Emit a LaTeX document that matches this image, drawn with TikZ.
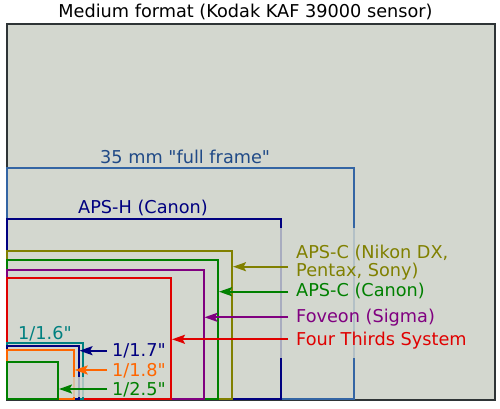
\documentclass[tikz,border=0pt]{standalone}
\usepackage{fontspec}
\setmainfont{DejaVu Sans}[Ligatures=TeXOff]
\usetikzlibrary{arrows.meta}
\definecolor{bg}{HTML}{D3D7CF}
\definecolor{frameC}{HTML}{2E3436}
\definecolor{ffC}{HTML}{3465A4}
\definecolor{ffT}{HTML}{204A87}
\definecolor{navyC}{HTML}{000080}
\definecolor{oliveC}{HTML}{808000}
\definecolor{greenC}{HTML}{008000}
\definecolor{purpleC}{HTML}{800080}
\definecolor{redC}{HTML}{E00000}
\definecolor{tealC}{HTML}{008080}
\definecolor{orangeC}{HTML}{FF6600}
\begin{document}
\begin{tikzpicture}[x=1pt,y=-1pt,
  lbl/.style={inner sep=0pt, anchor=base west, font=\fontsize{17.7}{18.4}\selectfont},
  rect/.style={line width=2pt},
  arr/.style={line width=2pt, -{Stealth[length=13pt,width=9pt,inset=2.5pt]}}]
\useasboundingbox (0,0) rectangle (500,409);
% medium format
\draw[frameC, line width=1.6pt, fill=bg] (7,24) rectangle (495,400);
\node[lbl, anchor=base, text=black] (tMF) at (245.5,17.3) {Medium format (Kodak KAF 39000 sensor)};
% sensor rectangles, largest first
\draw[rect, ffC]     (7,399) rectangle (354,168);
\draw[rect, navyC]   (7,399) rectangle (281,219);
\draw[rect, oliveC]  (7,399) rectangle (232,251);
\draw[rect, greenC]  (7,399) rectangle (218,260);
\draw[rect, purpleC] (7,399) rectangle (203.5,269.5);
\draw[rect, redC]    (7,399) rectangle (171,277.5);
\draw[rect, tealC]   (7,399) rectangle (82.5,343);
\draw[rect, navyC]   (7,399) rectangle (78.5,345.5);
\draw[rect, orangeC] (7,399) rectangle (73.7,350);
\draw[rect, greenC]  (7,399) rectangle (58,362);
% fades behind labels
\fill[bg, opacity=0.8] (262,228) rectangle (480,358);
\fill[bg, opacity=0.8] (64,377) rectangle (100,397);
% labels
\node[lbl, text=ffT]     (tFF)  at (100,163.3) {35 mm "full frame"};
\node[lbl, text=navyC]   (tAH)  at (78,213.3) {APS-H (Canon)};
\node[lbl, text=oliveC, align=left] (tACN) at (296,276.7) {APS-C (Nikon DX,\\Pentax, Sony)};
\node[lbl, text=greenC]  (tACC) at (296,296.7) {APS-C (Canon)};
\node[lbl, text=purpleC] (tFov) at (296,322.7) {Foveon (Sigma)};
\node[lbl, text=redC]    (tFT)  at (296,345) {Four Thirds System};
\node[lbl, text=tealC]   (t16)  at (18,339.3) {1/1.6"};
\node[lbl, text=navyC]   (t17)  at (112,356.7) {1/1.7"};
\node[lbl, text=orangeC] (t18)  at (112,376) {1/1.8"};
\node[lbl, text=greenC]  (t25)  at (112,395) {1/2.5"};
% arrow targets
\coordinate (eACN) at (233,266.7);
\coordinate (eACC) at (219,291.7);
\coordinate (eFov) at (204.5,317.3);
\coordinate (eFT)  at (172,339.3);
\coordinate (e17)  at (79.5,350.7);
\coordinate (e18)  at (74.7,370);
\coordinate (e25)  at (59,389);
% arrows
\draw[arr, oliveC]  ([xshift=-8pt]tACN.west |- eACN) -- (eACN);
\draw[arr, greenC]  ([xshift=-8pt]tACC.west |- eACC) -- (eACC);
\draw[arr, purpleC] ([xshift=-8pt]tFov.west |- eFov) -- (eFov);
\draw[arr, redC]    ([xshift=-8pt]tFT.west |- eFT) -- (eFT);
\draw[arr, navyC]   ([xshift=-5pt]t17.west |- e17) -- (e17);
\draw[arr, orangeC] ([xshift=-5pt]t18.west |- e18) -- (e18);
\draw[arr, greenC]  ([xshift=-5pt]t25.west |- e25) -- (e25);
\end{tikzpicture}
\end{document}
